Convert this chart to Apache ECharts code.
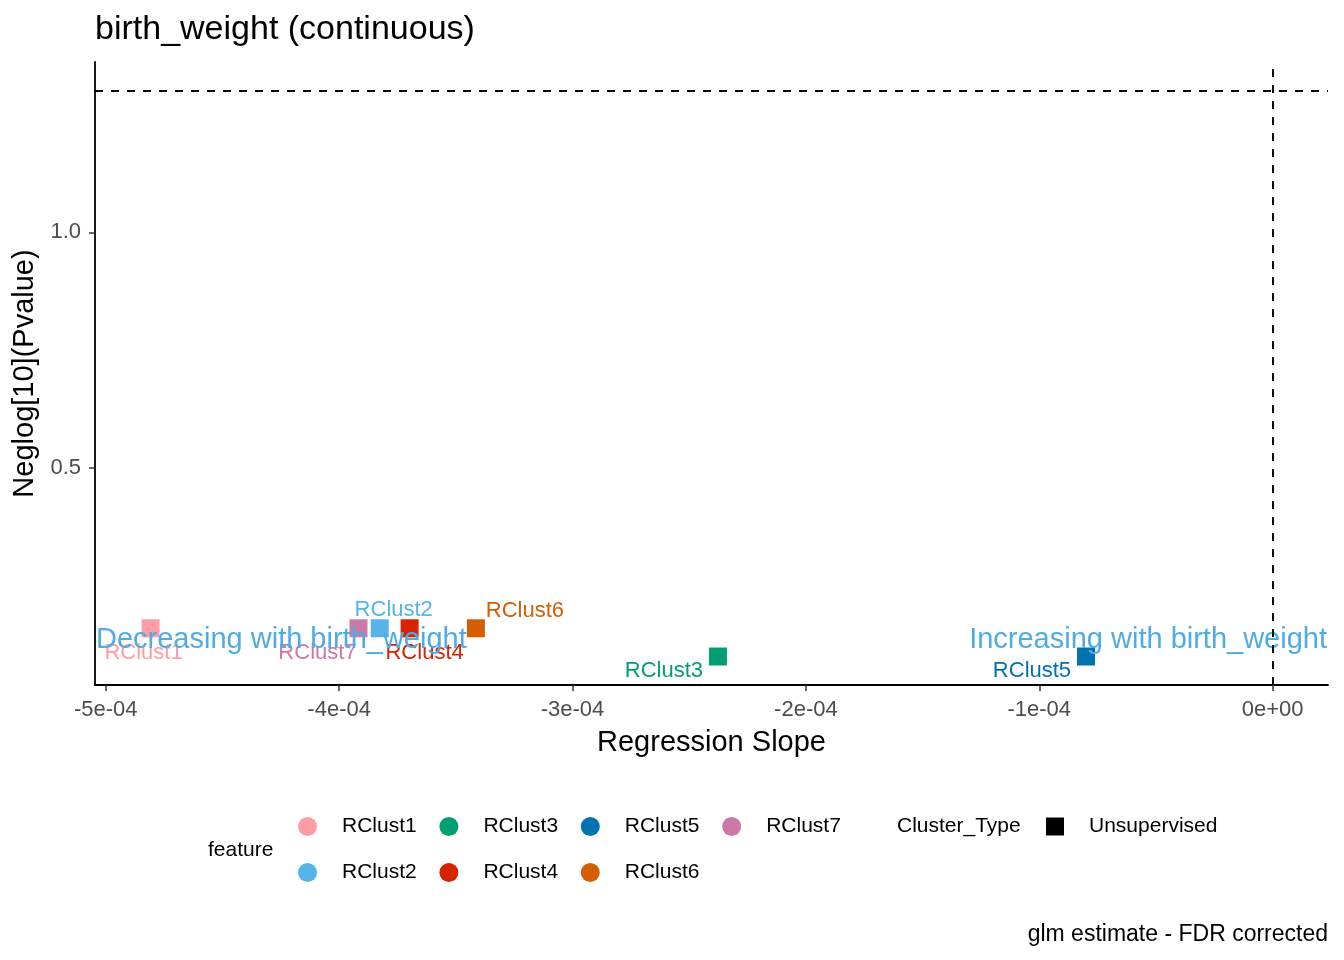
<!DOCTYPE html>
<html>
<head>
<meta charset="utf-8">
<script src="https://cdn.jsdelivr.net/npm/echarts@6/dist/echarts.min.js"></script>
<style>
  html, body { margin: 0; padding: 0; background: #fff; }
  #chart { width: 1344px; height: 960px; }
</style>
</head>
<body>
<div id="chart"></div>
<script>
// data
const features = ['RClust1', 'RClust2', 'RClust3', 'RClust4', 'RClust5', 'RClust6', 'RClust7'];
const slopes = [-4.808e-4, -3.826e-4, -2.377e-4, -3.698e-4, -0.800e-4, -3.414e-4, -3.917e-4];
const negLogP = [0.159, 0.159, 0.099, 0.159, 0.099, 0.159, 0.159];
const xTicks = [-5e-4, -4e-4, -3e-4, -2e-4, -1e-4, 0];
const yTicks = [0.5, 1.0];
const pThreshold = 1.301; // -log10(0.05)
const annotY = 0.134;

// look
const colors = ['#FF9DA7', '#56B4E9', '#009E73', '#D62300', '#0072B2', '#D55E00', '#CC79A7'];
const labelOffsets = [[-7, 25], [14, -18], [-54, 14], [15, 25], [-54, 14], [49, -17], [-41, 25]];
const legendRow1 = ['RClust1', 'RClust3', 'RClust5', 'RClust7'];
const legendRow2 = ['RClust2', 'RClust4', 'RClust6'];
const xMin = -5.046e-4, xMax = 0.237e-4;
const yMin = 0.0385, yMax = 1.362;
const font = "'Liberation Sans', Arial, sans-serif";

function sci(v) {
  if (v === 0) return '0e+00';
  const e = Math.floor(Math.log10(Math.abs(v)) + 1e-9);
  const m = Math.round(v / Math.pow(10, e));
  const ea = Math.abs(e);
  return m + 'e' + (e < 0 ? '-' : '+') + (ea < 10 ? '0' : '') + ea;
}

const chart = echarts.init(document.getElementById('chart'));

const series = features.map((f, i) => ({
  name: f,
  type: 'scatter',
  symbol: 'rect',
  symbolSize: 18,
  itemStyle: { color: colors[i], opacity: 1 },
  data: [[slopes[i], negLogP[i]]],
  label: {
    show: true,
    position: 'inside',
    offset: labelOffsets[i],
    formatter: f,
    color: colors[i],
    fontSize: 22,
    fontFamily: font
  },
  emphasis: { disabled: true }
}));

// dashed reference lines
series.push({
  name: 'ref',
  type: 'scatter',
  data: [],
  markLine: {
    silent: true,
    symbol: 'none',
    label: { show: false },
    lineStyle: { color: '#000', type: [8, 8], width: 1.9 },
    data: [{ yAxis: pThreshold }, { xAxis: 0 }]
  }
});

// direction annotations
series.push({
  name: 'annot',
  type: 'scatter',
  symbolSize: 0,
  silent: true,
  itemStyle: { opacity: 1 },
  data: [
    { value: [xMin, annotY], label: { position: 'right', formatter: 'Decreasing with birth_weight' } },
    { value: [xMax, annotY], label: { position: 'left', formatter: 'Increasing with birth_weight' } }
  ],
  label: {
    show: true,
    distance: 1,
    color: '#4FACE3',
    fontSize: 29,
    fontFamily: font
  },
  z: 3
});

// Cluster_Type legend entry
series.push({
  name: 'Unsupervised',
  type: 'scatter',
  symbol: 'rect',
  itemStyle: { color: '#000', opacity: 1 },
  data: []
});

const featureLegend = (names, top) => ({
  data: names,
  left: 298, top: top, padding: 0, orient: 'horizontal',
  icon: 'circle', itemWidth: 19, itemHeight: 19, itemGap: 22.7,
  textStyle: { fontSize: 21, color: '#000', fontFamily: font, padding: [0, 0, 0, 20] },
  selectedMode: false
});

const option = {
  animation: false,
  backgroundColor: '#fff',
  textStyle: { fontFamily: font },
  title: [
    { text: 'birth_weight (continuous)', left: 95, top: 13, padding: 0,
      textStyle: { fontSize: 34, fontWeight: 'normal', color: '#000', fontFamily: font } },
    { text: 'feature', left: 208, top: 840, padding: 0,
      textStyle: { fontSize: 21, fontWeight: 'normal', color: '#000', fontFamily: font } },
    { text: 'Cluster_Type', left: 897, top: 816, padding: 0,
      textStyle: { fontSize: 21, fontWeight: 'normal', color: '#000', fontFamily: font } },
    { text: 'glm estimate - FDR corrected', right: 16, top: 923, padding: 0,
      textStyle: { fontSize: 23, fontWeight: 'normal', color: '#000', fontFamily: font } }
  ],
  legend: [
    featureLegend(legendRow1, 816),
    featureLegend(legendRow2, 862),
    {
      data: ['Unsupervised'],
      left: 1046, top: 816, padding: 0,
      icon: 'rect', itemWidth: 18, itemHeight: 18,
      itemStyle: { color: '#000', opacity: 1 },
      textStyle: { fontSize: 21, color: '#000', fontFamily: font, padding: [0, 0, 0, 20] },
      selectedMode: false
    }
  ],
  grid: { left: 95, right: 16, top: 62, bottom: 275, containLabel: false },
  xAxis: {
    type: 'value',
    min: xMin, max: xMax,
    name: 'Regression Slope',
    nameLocation: 'middle',
    nameGap: 43,
    nameTextStyle: { fontSize: 29, color: '#000', fontFamily: font },
    axisLine: { show: true, onZero: false, lineStyle: { color: '#000', width: 1.8 } },
    axisTick: { show: true, length: 6, customValues: xTicks, lineStyle: { color: '#333', width: 1.5 } },
    axisLabel: { customValues: xTicks, formatter: sci, margin: 14, fontSize: 22, color: '#4D4D4D', fontFamily: font },
    splitLine: { show: false }
  },
  yAxis: {
    type: 'value',
    min: yMin, max: yMax,
    name: 'Neglog[10](Pvalue)',
    nameLocation: 'middle',
    nameGap: 49,
    nameTextStyle: { fontSize: 29, color: '#000', fontFamily: font },
    axisLine: { show: true, onZero: false, lineStyle: { color: '#000', width: 1.8 } },
    axisTick: { show: true, length: 6, customValues: yTicks, lineStyle: { color: '#333', width: 1.5 } },
    axisLabel: { customValues: yTicks, formatter: v => v.toFixed(1), margin: 14, fontSize: 22, color: '#4D4D4D', fontFamily: font },
    splitLine: { show: false }
  },
  series: series
};

chart.setOption(option);
</script>
</body>
</html>
